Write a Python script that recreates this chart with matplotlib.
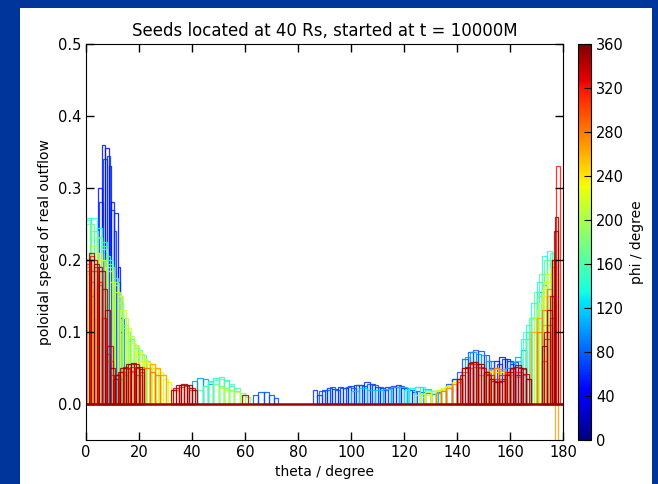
import numpy as np
import matplotlib
matplotlib.use('Agg')
import matplotlib.pyplot as plt
from matplotlib.patches import Rectangle

# phi of each seed group (degree)
phiVals = [50, 62, 75, 100, 115, 140, 160, 175, 205, 220, 235, 265, 280, 300, 318, 340, 352]

# speed profiles: list of (bin edges, speeds) segments, one list per seed group
blue1 = [([4.5, 6, 7, 8.5, 9.5, 10.5, 12, 13, 14.5], [0.30, 0.36, 0.355, 0.33, 0.28, 0.265, 0.19, 0.12]),
         ([136, 138, 140], [0.025, 0.035]),
         ([152, 154, 156, 158, 160, 162, 164], [0.05, 0.06, 0.065, 0.062, 0.055, 0.04])]
blue2 = [([5, 6.5, 8, 9, 10.5, 11.5, 13, 14], [0.28, 0.34, 0.345, 0.27, 0.24, 0.17, 0.10]),
         ([85.5, 87, 89, 91, 93, 95, 97, 99, 101, 103, 105, 107, 109, 111, 113, 115, 117, 119, 121, 123, 125],
          [0.02, 0.012, 0.02, 0.022, 0.021, 0.024, 0.022, 0.025, 0.026, 0.027, 0.03, 0.028, 0.024, 0.022, 0.023,
           0.025, 0.026, 0.022, 0.019, 0.016]),
         ([155, 157, 159, 161, 163, 165], [0.055, 0.062, 0.06, 0.058, 0.045])]
blue3 = [([63, 65, 67, 69, 71, 72.5], [0.013, 0.016, 0.016, 0.013, 0.008]),
         ([88, 90, 92, 94, 96, 98, 100, 102, 104, 106, 108, 110, 112, 114, 116, 118, 120, 122, 124, 126, 128, 130,
           132, 134, 136, 138, 140],
          [0.018, 0.02, 0.023, 0.02, 0.022, 0.024, 0.022, 0.026, 0.025, 0.028, 0.026, 0.023, 0.02, 0.022, 0.024,
           0.025, 0.022, 0.02, 0.018, 0.016, 0.015, 0.014, 0.016, 0.02, 0.028, 0.035]),
         ([140, 142, 144, 146, 148, 150, 152, 154], [0.045, 0.062, 0.072, 0.075, 0.074, 0.068, 0.06])]
lightBlue1 = [([38, 40, 42, 44, 46, 48], [0.022, 0.032, 0.036, 0.035, 0.028]),
              ([143, 145, 147, 149, 151, 153], [0.065, 0.072, 0.07, 0.068, 0.06]),
              ([158, 160, 162, 164, 166, 168, 170, 172, 174], [0.05, 0.058, 0.065, 0.075, 0.09, 0.12, 0.155, 0.165])]
lightBlue2 = [([100, 103, 106, 109, 112, 115, 118, 121, 124, 127, 130, 133, 136],
               [0.018, 0.022, 0.02, 0.019, 0.021, 0.023, 0.024, 0.022, 0.023, 0.021, 0.018, 0.02]),
              ([162, 164, 166, 168, 170, 172], [0.06, 0.075, 0.1, 0.12, 0.15])]
cyan = [([0, 2, 4, 6, 8, 10, 12, 14, 16, 18], [0.258, 0.258, 0.245, 0.225, 0.2, 0.175, 0.14, 0.11, 0.09]),
        ([44, 46, 48, 50, 52, 54, 56], [0.025, 0.032, 0.036, 0.037, 0.034, 0.025]),
        ([120, 122, 124, 126, 128, 130, 132], [0.02, 0.022, 0.024, 0.023, 0.02, 0.018]),
        ([164, 166, 168, 170, 172, 174, 176], [0.09, 0.11, 0.14, 0.17, 0.205, 0.213])]
green2 = [([0, 1.5, 3, 4.5, 6, 7.5, 9, 10.5, 12, 13.5, 15, 16.5, 18, 19.5, 21, 22.5, 24],
           [0.255, 0.25, 0.24, 0.232, 0.22, 0.205, 0.19, 0.17, 0.15, 0.12, 0.1, 0.09, 0.082, 0.075, 0.068, 0.06]),
          ([42, 44, 46, 48, 50, 52, 54, 56, 58], [0.02, 0.025, 0.03, 0.034, 0.035, 0.032, 0.028, 0.022]),
          ([165, 167, 169, 171, 173, 175, 176.5], [0.1, 0.12, 0.155, 0.18, 0.2, 0.21])]
green = [([0, 2, 4, 6, 8, 10, 12, 14, 16, 18, 20, 22, 24, 26],
          [0.25, 0.24, 0.23, 0.215, 0.195, 0.17, 0.14, 0.105, 0.088, 0.078, 0.07, 0.06, 0.05]),
         ([48, 50, 52, 54, 56, 58, 60, 62], [0.028, 0.025, 0.022, 0.02, 0.018, 0.015, 0.01]),
         ([166, 168, 170, 172, 174, 176], [0.09, 0.12, 0.15, 0.18, 0.2])]
yellowGreen = [([2, 4, 6, 8, 10, 12, 14, 16, 18, 20, 22, 24, 26, 28, 30],
                [0.22, 0.21, 0.2, 0.185, 0.165, 0.15, 0.12, 0.095, 0.08, 0.07, 0.06, 0.055, 0.048, 0.04]),
               ([50, 52, 54, 56, 58, 60], [0.022, 0.02, 0.018, 0.016, 0.012]),
               ([124, 126, 128, 130, 132, 134, 136], [0.012, 0.014, 0.016, 0.018, 0.02, 0.022]),
               ([168, 170, 172, 174, 176], [0.1, 0.13, 0.16, 0.18])]
yellow2 = [([3, 5, 7, 9, 11, 13, 15, 17, 19, 21, 23, 25, 27, 29, 31],
            [0.21, 0.2, 0.19, 0.17, 0.155, 0.13, 0.105, 0.085, 0.072, 0.062, 0.055, 0.05, 0.045, 0.035]),
           ([128, 130, 132, 134, 136, 138], [0.012, 0.015, 0.02, 0.022, 0.025]),
           ([146, 148, 150, 152, 154, 156, 158, 160, 162], [0.03, 0.038, 0.042, 0.046, 0.048, 0.045, 0.04, 0.035]),
           ([169, 171, 173, 175, 177], [0.12, 0.14, 0.17, 0.19])]
yellow = [([0.5, 1.5, 2.5, 3.5], [0.18, 0.16, 0.12]),
          ([20, 22, 24, 26, 28, 30, 32], [0.06, 0.058, 0.055, 0.05, 0.04, 0.03]),
          ([126, 128, 130, 132, 134, 136, 138, 140], [0.01, 0.012, 0.015, 0.018, 0.02, 0.025, 0.03]),
          ([148, 150, 152, 154, 156, 158, 160], [0.035, 0.04, 0.045, 0.045, 0.04, 0.035]),
          ([170, 172, 174, 176], [0.11, 0.15, 0.18])]
orange = [([0, 1, 2, 3], [0.19, 0.2, 0.15]),
          ([22, 24, 26, 28, 30], [0.05, 0.055, 0.05, 0.04]),
          ([150, 152, 154, 156, 158, 160], [0.042, 0.048, 0.05, 0.046, 0.04]),
          ([168, 170, 172, 174, 176, 177, 178], [0.1, 0.12, 0.11, 0.15, 0.2, -0.06])]
orange2 = [([0, 1.5, 3], [0.185, 0.17]),
           ([12, 14, 16, 18, 20, 22, 24, 26, 28], [0.035, 0.04, 0.045, 0.05, 0.052, 0.05, 0.045, 0.04]),
           ([132, 134, 136, 138, 140, 142], [0.015, 0.018, 0.022, 0.028, 0.035]),
           ([148, 150, 152, 154, 156, 158, 160, 162, 164], [0.04, 0.045, 0.048, 0.05, 0.048, 0.044, 0.04, 0.038]),
           ([170, 172, 174, 176, 177], [0.1, 0.13, 0.16, 0.19])]
redOrange = [([0, 2, 4, 6, 8, 10], [0.195, 0.185, 0.165, 0.12, 0.06]),
             ([11, 13, 15, 17, 19, 21], [0.04, 0.045, 0.048, 0.046, 0.04]),
             ([33, 35, 37, 39, 41], [0.02, 0.024, 0.025, 0.02]),
             ([140, 142, 144, 146, 148, 150, 152, 154, 156, 158, 160, 162, 164, 166],
              [0.03, 0.045, 0.05, 0.052, 0.05, 0.042, 0.035, 0.03, 0.035, 0.042, 0.048, 0.045, 0.04]),
             ([172, 174, 176, 177.5], [0.06, 0.11, 0.2])]
red = [([0, 1.5, 3, 4.5, 6, 7.5, 9, 10.5], [0.2, 0.205, 0.19, 0.17, 0.12, 0.07, 0.04]),
       ([10.5, 12.5, 14.5, 16.5, 18.5, 20.5, 22], [0.04, 0.045, 0.05, 0.052, 0.05, 0.045]),
       ([140, 142, 144, 146, 148, 150, 152, 154, 156, 158, 160, 162, 164, 166, 168],
        [0.035, 0.05, 0.055, 0.056, 0.052, 0.045, 0.04, 0.035, 0.04, 0.045, 0.05, 0.052, 0.048, 0.035]),
       ([173, 175, 176.5, 177.5, 179], [0.09, 0.12, 0.15, 0.33])]
darkRed2 = [([0, 2, 4, 6, 8, 10, 12, 14, 16, 18, 20, 22],
             [0.2, 0.2, 0.19, 0.16, 0.08, 0.035, 0.045, 0.052, 0.056, 0.055, 0.048]),
            ([33, 35, 37, 39, 41], [0.022, 0.027, 0.026, 0.022]),
            ([141, 143, 145, 147, 149, 151, 153, 155, 157, 159, 161, 163, 165, 167],
             [0.04, 0.052, 0.058, 0.056, 0.05, 0.04, 0.032, 0.03, 0.035, 0.045, 0.052, 0.05, 0.042]),
            ([173, 175, 176.5, 178], [0.1, 0.15, 0.24])]
darkRed = [([1, 3, 5, 7, 9, 11, 13, 15, 17, 19, 21],
            [0.21, 0.195, 0.185, 0.13, 0.05, 0.04, 0.05, 0.055, 0.057, 0.052]),
           ([32, 34, 36, 38, 40, 42], [0.02, 0.026, 0.028, 0.027, 0.02]),
           ([59, 61], [0.012]),
           ([140, 142, 144, 146, 148, 150, 152, 154, 156, 158, 160, 162, 164, 166, 168],
            [0.035, 0.05, 0.057, 0.059, 0.056, 0.045, 0.035, 0.03, 0.032, 0.04, 0.05, 0.054, 0.05, 0.035]),
           ([172, 174, 176, 177, 178], [0.08, 0.13, 0.2, 0.26])]

profiles = [blue1, blue2, blue3, lightBlue1, lightBlue2, cyan, green2, green, yellowGreen,
            yellow2, yellow, orange, orange2, redOrange, red, darkRed2, darkRed]

xTicks = np.arange(0, 181, 20)
yTicks = np.arange(0, 0.51, 0.1)
cTicks = np.arange(0, 361, 40)

plt.rcParams['font.family'] = 'DejaVu Sans'
plt.rcParams['font.size'] = 10

fig = plt.figure(figsize=(6.58, 4.84), dpi=100, facecolor='#00359c')
# white slide area, behind the axes
fig.patches.append(Rectangle((20/658, 0), 632/658, 476/484, transform=fig.transFigure,
                             facecolor='white', edgecolor='none', zorder=-10))

ax = fig.add_axes([86/658, 44/484, 477/658, 396/484])
cax = fig.add_axes([578/658, 44/484, 13/658, 396/484])

cmap = plt.get_cmap('jet')
norm = matplotlib.colors.Normalize(vmin=0, vmax=360)

# unfilled bars, each bin is its own box down to zero
for phi, segs in zip(phiVals, profiles):
    for edges, speeds in segs:
        edges = np.array(edges)
        ax.bar(edges[:-1], speeds, width=np.diff(edges), align='edge', fill=False,
               edgecolor=cmap(norm(phi)), lw=0.9, alpha=0.85)

ax.axhline(0, color=cmap(norm(350)), lw=1.8)

ax.set_xlim(0, 180)
ax.set_ylim(-0.05, 0.5)
ax.set_xticks(xTicks)
ax.set_yticks(yTicks)
ax.tick_params(direction='in', top=True, right=True, length=6, width=1, labelsize=10.5)
ax.set_xlabel('theta / degree', fontsize=10)
ax.set_ylabel('poloidal speed of real outflow', fontsize=10)
ax.set_title('Seeds located at 40 Rs, started at t = 10000M', fontsize=12)

sm = matplotlib.cm.ScalarMappable(norm=norm, cmap=cmap)
cb = fig.colorbar(sm, cax=cax, ticks=cTicks)
cb.ax.tick_params(direction='in', length=5, labelsize=10.5)
cb.set_label('phi / degree', fontsize=10)

fig.savefig('out.png', dpi=100, facecolor=fig.get_facecolor())
